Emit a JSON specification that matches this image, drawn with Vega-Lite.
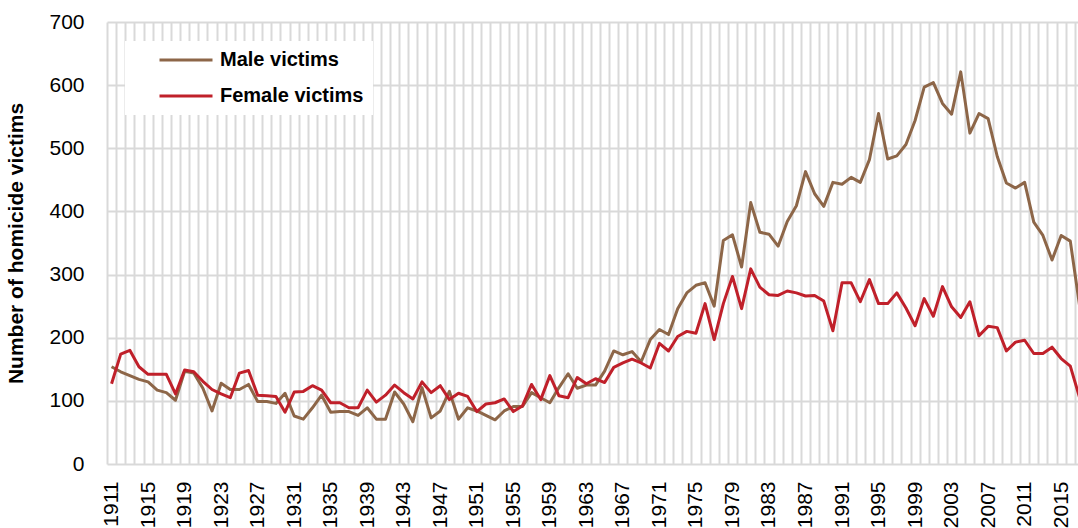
{
  "$schema": "https://vega.github.io/schema/vega-lite/v6.json",
  "width": 971,
  "height": 442,
  "autosize": {"type": "none"},
  "padding": {"left": 107, "top": 22, "right": 0, "bottom": 64},
  "background": "white",
  "config": {
    "view": {"stroke": null},
    "font": "Liberation Sans"
  },
  "data": {
    "values": [
      {"year": 1911, "Male victims": 154, "Female victims": 127},
      {"year": 1912, "Male victims": 146, "Female victims": 174},
      {"year": 1913, "Male victims": 140, "Female victims": 180},
      {"year": 1914, "Male victims": 134, "Female victims": 154},
      {"year": 1915, "Male victims": 130, "Female victims": 142},
      {"year": 1916, "Male victims": 117, "Female victims": 142},
      {"year": 1917, "Male victims": 113, "Female victims": 142},
      {"year": 1918, "Male victims": 101, "Female victims": 111},
      {"year": 1919, "Male victims": 147, "Female victims": 149},
      {"year": 1920, "Male victims": 144, "Female victims": 146},
      {"year": 1921, "Male victims": 120, "Female victims": 131},
      {"year": 1922, "Male victims": 84, "Female victims": 118},
      {"year": 1923, "Male victims": 128, "Female victims": 111},
      {"year": 1924, "Male victims": 118, "Female victims": 105},
      {"year": 1925, "Male victims": 118, "Female victims": 144},
      {"year": 1926, "Male victims": 126, "Female victims": 148},
      {"year": 1927, "Male victims": 99, "Female victims": 109},
      {"year": 1928, "Male victims": 99, "Female victims": 108},
      {"year": 1929, "Male victims": 96, "Female victims": 107},
      {"year": 1930, "Male victims": 112, "Female victims": 82},
      {"year": 1931, "Male victims": 76, "Female victims": 114},
      {"year": 1932, "Male victims": 71, "Female victims": 115},
      {"year": 1933, "Male victims": 89, "Female victims": 124},
      {"year": 1934, "Male victims": 109, "Female victims": 117},
      {"year": 1935, "Male victims": 82, "Female victims": 97},
      {"year": 1936, "Male victims": 83, "Female victims": 97},
      {"year": 1937, "Male victims": 83, "Female victims": 89},
      {"year": 1938, "Male victims": 77, "Female victims": 89},
      {"year": 1939, "Male victims": 89, "Female victims": 117},
      {"year": 1940, "Male victims": 71, "Female victims": 98},
      {"year": 1941, "Male victims": 71, "Female victims": 109},
      {"year": 1942, "Male victims": 114, "Female victims": 125},
      {"year": 1943, "Male victims": 95, "Female victims": 113},
      {"year": 1944, "Male victims": 67, "Female victims": 103},
      {"year": 1945, "Male victims": 121, "Female victims": 130},
      {"year": 1946, "Male victims": 73, "Female victims": 113},
      {"year": 1947, "Male victims": 84, "Female victims": 124},
      {"year": 1948, "Male victims": 115, "Female victims": 102},
      {"year": 1949, "Male victims": 71, "Female victims": 112},
      {"year": 1950, "Male victims": 89, "Female victims": 107},
      {"year": 1951, "Male victims": 84, "Female victims": 83},
      {"year": 1952, "Male victims": 77, "Female victims": 95},
      {"year": 1953, "Male victims": 70, "Female victims": 97},
      {"year": 1954, "Male victims": 84, "Female victims": 103},
      {"year": 1955, "Male victims": 91, "Female victims": 83},
      {"year": 1956, "Male victims": 91, "Female victims": 92},
      {"year": 1957, "Male victims": 113, "Female victims": 126},
      {"year": 1958, "Male victims": 105, "Female victims": 102},
      {"year": 1959, "Male victims": 97, "Female victims": 140},
      {"year": 1960, "Male victims": 121, "Female victims": 108},
      {"year": 1961, "Male victims": 143, "Female victims": 105},
      {"year": 1962, "Male victims": 120, "Female victims": 137},
      {"year": 1963, "Male victims": 125, "Female victims": 127},
      {"year": 1964, "Male victims": 125, "Female victims": 135},
      {"year": 1965, "Male victims": 147, "Female victims": 129},
      {"year": 1966, "Male victims": 179, "Female victims": 153},
      {"year": 1967, "Male victims": 173, "Female victims": 160},
      {"year": 1968, "Male victims": 178, "Female victims": 166},
      {"year": 1969, "Male victims": 162, "Female victims": 160},
      {"year": 1970, "Male victims": 197, "Female victims": 152},
      {"year": 1971, "Male victims": 213, "Female victims": 191},
      {"year": 1972, "Male victims": 205, "Female victims": 179},
      {"year": 1973, "Male victims": 246, "Female victims": 202},
      {"year": 1974, "Male victims": 271, "Female victims": 210},
      {"year": 1975, "Male victims": 283, "Female victims": 207},
      {"year": 1976, "Male victims": 287, "Female victims": 254},
      {"year": 1977, "Male victims": 250, "Female victims": 197},
      {"year": 1978, "Male victims": 354, "Female victims": 254},
      {"year": 1979, "Male victims": 363, "Female victims": 297},
      {"year": 1980, "Male victims": 312, "Female victims": 246},
      {"year": 1981, "Male victims": 414, "Female victims": 309},
      {"year": 1982, "Male victims": 367, "Female victims": 280},
      {"year": 1983, "Male victims": 364, "Female victims": 268},
      {"year": 1984, "Male victims": 345, "Female victims": 267},
      {"year": 1985, "Male victims": 384, "Female victims": 274},
      {"year": 1986, "Male victims": 409, "Female victims": 271},
      {"year": 1987, "Male victims": 463, "Female victims": 266},
      {"year": 1988, "Male victims": 428, "Female victims": 267},
      {"year": 1989, "Male victims": 408, "Female victims": 258},
      {"year": 1990, "Male victims": 446, "Female victims": 211},
      {"year": 1991, "Male victims": 443, "Female victims": 287},
      {"year": 1992, "Male victims": 454, "Female victims": 287},
      {"year": 1993, "Male victims": 446, "Female victims": 257},
      {"year": 1994, "Male victims": 482, "Female victims": 292},
      {"year": 1995, "Male victims": 555, "Female victims": 254},
      {"year": 1996, "Male victims": 483, "Female victims": 254},
      {"year": 1997, "Male victims": 488, "Female victims": 271},
      {"year": 1998, "Male victims": 506, "Female victims": 247},
      {"year": 1999, "Male victims": 544, "Female victims": 219},
      {"year": 2000, "Male victims": 597, "Female victims": 262},
      {"year": 2001, "Male victims": 604, "Female victims": 234},
      {"year": 2002, "Male victims": 571, "Female victims": 281},
      {"year": 2003, "Male victims": 554, "Female victims": 249},
      {"year": 2004, "Male victims": 621, "Female victims": 232},
      {"year": 2005, "Male victims": 524, "Female victims": 257},
      {"year": 2006, "Male victims": 555, "Female victims": 203},
      {"year": 2007, "Male victims": 547, "Female victims": 218},
      {"year": 2008, "Male victims": 487, "Female victims": 216},
      {"year": 2009, "Male victims": 445, "Female victims": 179},
      {"year": 2010, "Male victims": 437, "Female victims": 193},
      {"year": 2011, "Male victims": 446, "Female victims": 196},
      {"year": 2012, "Male victims": 383, "Female victims": 175},
      {"year": 2013, "Male victims": 362, "Female victims": 175},
      {"year": 2014, "Male victims": 323, "Female victims": 185},
      {"year": 2015, "Male victims": 362, "Female victims": 167},
      {"year": 2016, "Male victims": 353, "Female victims": 155},
      {"year": 2017, "Male victims": 252, "Female victims": 106}
    ]
  },
  "transform": [
    {"fold": ["Male victims", "Female victims"], "as": ["series", "victims"]}
  ],
  "mark": {"type": "line", "strokeWidth": 3, "strokeJoin": "round"},
  "encoding": {
    "x": {
      "field": "year",
      "type": "ordinal",
      "scale": {"type": "band", "paddingInner": 0, "paddingOuter": 0, "range": [0, 977]},
      "axis": {
        "title": null,
        "labelAngle": -90,
        "labelExpr": "(datum.value - 1911) % 4 == 0 ? datum.label : ''",
        "labelOverlap": false,
        "tickBand": "extent",
        "ticks": false,
        "domain": false,
        "grid": true,
        "gridColor": "#D9D9D9",
        "gridWidth": 2,
        "labelFont": "Liberation Sans",
        "labelFontSize": 21,
        "labelColor": "#000000",
        "labelPadding": 17
      }
    },
    "y": {
      "field": "victims",
      "type": "quantitative",
      "scale": {"domain": [0, 700], "nice": false},
      "axis": {
        "values": [0, 100, 200, 300, 400, 500, 600, 700],
        "title": "Number of homicide victims",
        "titleFont": "Liberation Sans",
        "titleFontSize": 21,
        "titleFontWeight": "bold",
        "titleColor": "#000000",
        "titlePadding": 22,
        "grid": true,
        "gridColor": "#D9D9D9",
        "gridWidth": 2,
        "domain": false,
        "ticks": false,
        "tickSize": 0,
        "labelPadding": 23,
        "labelFont": "Liberation Sans",
        "labelFontSize": 21,
        "labelColor": "#000000"
      }
    },
    "color": {
      "field": "series",
      "type": "nominal",
      "scale": {"domain": ["Male victims", "Female victims"], "range": ["#8D6648", "#C0202A"]},
      "legend": {
        "orient": "none",
        "legendX": 18,
        "legendY": 19,
        "title": null,
        "fillColor": "white",
        "padding": 9,
        "symbolType": "stroke",
        "symbolSize": 2809,
        "symbolStrokeWidth": 3,
        "clipHeight": 20,
        "rowPadding": 16,
        "symbolOffset": 24,
        "labelOffset": 6,
        "labelFont": "Liberation Sans",
        "labelFontSize": 20,
        "labelFontWeight": "bold",
        "labelColor": "#000000"
      }
    }
  }
}
